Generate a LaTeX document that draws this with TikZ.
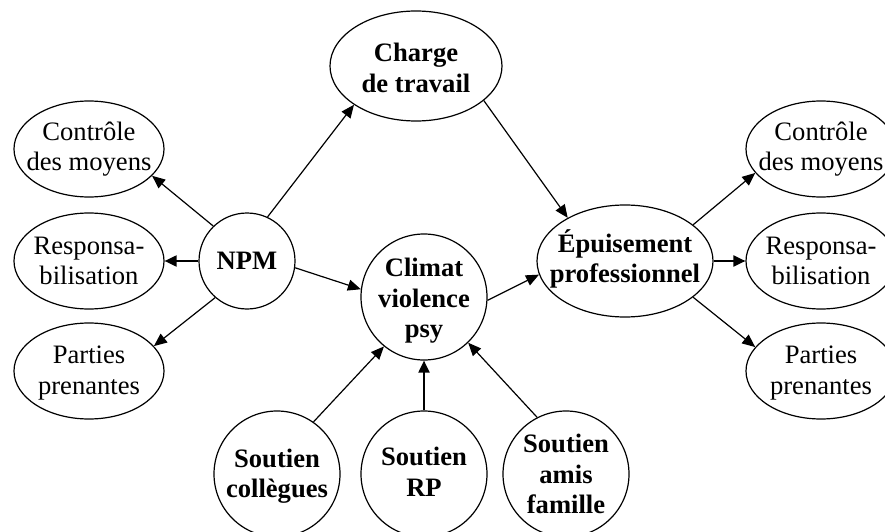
\documentclass[tikz,border=0pt]{standalone}
\usepackage{fontspec}
\setmainfont{Liberation Serif}
\usetikzlibrary{shapes.geometric,arrows.meta}
\begin{document}
\begin{tikzpicture}[x=1pt,y=1pt,
  shp/.style={draw, line width=1.2pt, inner sep=0pt},
  side/.style={shp, ellipse, minimum width=150pt, minimum height=96pt},
  circ/.style={shp, circle, minimum size=126pt},
  txt/.style={align=center, inner sep=0pt, font=\fontsize{26.6}{30.5}\selectfont},
  btxt/.style={txt, font=\fontsize{26.6}{30.5}\selectfont\bfseries},
  arr/.style={line width=1.2pt, -{Triangle[length=13pt,width=11pt]}},
  arrh/.style={line width=2pt, -{Triangle[length=12pt,width=11pt]}}
]
\useasboundingbox (0,0) rectangle (885,531);
\clip (0,0) rectangle (885,531);

% shapes
\node[shp, ellipse, minimum width=172pt, minimum height=110pt] (charge) at (416,465) {};
\node[shp, circle, minimum size=96pt] (npm) at (247,270) {};
\node[circ] (climat) at (424,234) {};
\node[shp, ellipse, minimum width=176pt, minimum height=112pt] (epuis) at (625,270) {};
\node[side] (lc) at (89,382) {};
\node[side] (lr) at (89,270) {};
\node[side] (lp) at (89,160) {};
\node[side] (rc) at (821,382) {};
\node[side] (rr) at (821,270) {};
\node[side] (rp) at (821,160) {};
\node[circ] (scol) at (277,57) {};
\node[circ] (srp) at (424,57) {};
\node[circ] (sam) at (566,57) {};

% texts
\node[btxt] (charge-t) at (416,463) {Charge\\de travail};
\node[btxt] (npm-t) at (247,270) {NPM};
\node[btxt] (climat-t) at (424,230) {Climat\\violence\\psy};
\node[btxt] (epuis-t) at (625,272) {Épuisement\\professionnel};
\node[txt] (lc-t) at (89,382) {Contrôle\\des moyens};
\node[txt] (lr-t) at (89,270) {Responsa-\\bilisation};
\node[txt] (lp-t) at (89,158) {Parties\\prenantes};
\node[txt] (rc-t) at (821,382) {Contrôle\\des moyens};
\node[txt] (rr-t) at (821,270) {Responsa-\\bilisation};
\node[txt] (rp-t) at (821,158) {Parties\\prenantes};
\node[btxt] (scol-t) at (277,55) {Soutien\\collègues};
\node[btxt] (srp-t) at (424,59) {Soutien\\RP};
\node[btxt] (sam-t) at (566,57) {Soutien\\amis\\famille};

% connectors
\draw[arr] (npm.65) -- (charge.212);
\draw[arr] (npm.134) -- (lc.337);
\draw[arrh] (npm.west) -- (lr.east);
\draw[arr] (npm.229) -- (lp.21);
\draw[arr] (npm.352) -- (climat.173);
\draw[arr] (charge.333) -- (epuis.143);
\draw[arr] (climat.357) -- (epuis.189);
\draw[arr] (epuis.28) -- (rc.200);
\draw[arrh] (epuis.east) -- (rr.west);
\draw[arr] (epuis.332) -- (rp.160);
\draw[arr] (scol.55) -- (climat.231);
\draw[arrh] (srp.north) -- (climat.south);
\draw[arr] (sam.117) -- (climat.314);
\end{tikzpicture}
\end{document}
